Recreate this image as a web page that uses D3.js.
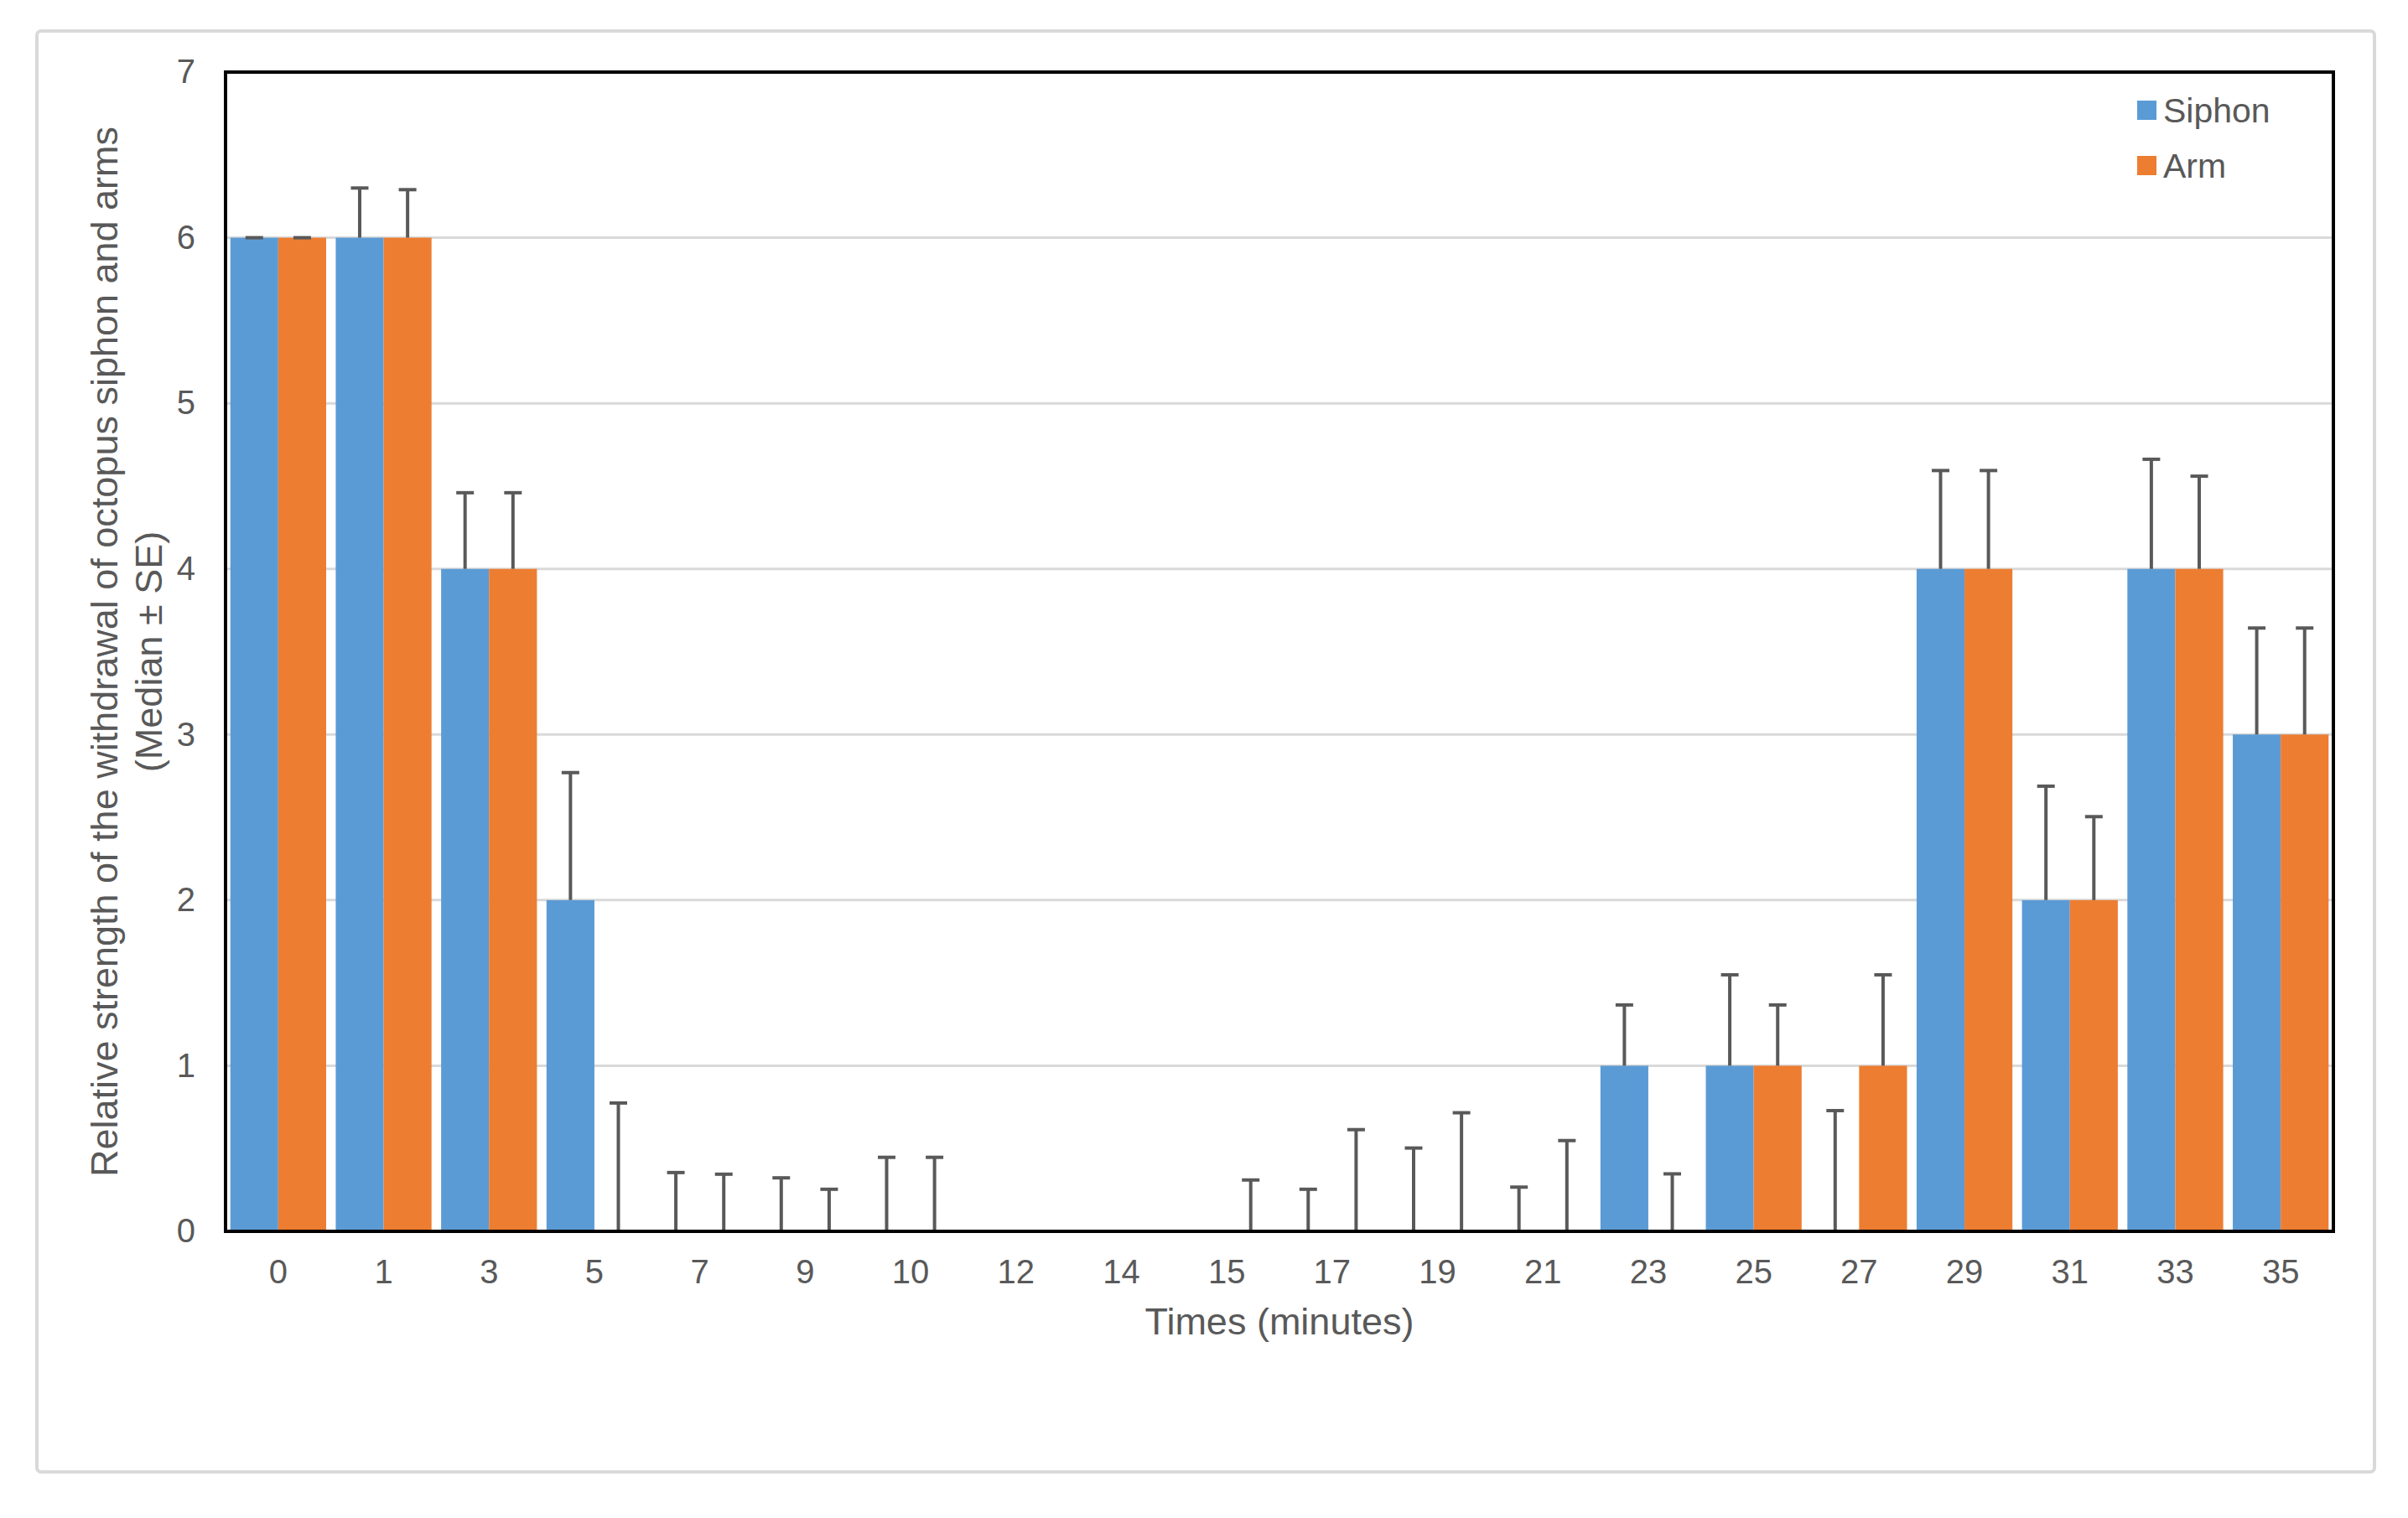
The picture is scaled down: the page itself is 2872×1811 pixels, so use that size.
<!DOCTYPE html>
<html>
<head>
<meta charset="utf-8">
<script src="https://cdn.jsdelivr.net/npm/d3@7"></script>
<style>
  html, body { margin: 0; padding: 0; background: #ffffff; }
  svg { display: block; }
  text { font-family: "Liberation Sans", Arial, Helvetica, sans-serif; fill: #595959; }
</style>
</head>
<body>
<script>
// ---- Data ----
const categories = ["0","1","3","5","7","9","10","12","14","15","17","19","21","23","25","27","29","31","33","35"];
const seriesNames = ["Siphon", "Arm"];
const siphon   = [6, 6, 4, 2, 0, 0, 0, 0, 0, 0, 0, 0, 0, 1, 1, 0, 4, 2, 4, 3];
const arm      = [6, 6, 4, 0, 0, 0, 0, 0, 0, 0, 0, 0, 0, 0, 1, 1, 4, 2, 4, 3];
const siphonSE = [0, 0.30, 0.46, 0.77, 0.355, 0.323, 0.447, 0, 0, 0, 0.254, 0.503, 0.267, 0.367, 0.549, 0.729, 0.594, 0.688, 0.662, 0.643];
const armSE    = [0, 0.29, 0.46, 0.775, 0.345, 0.254, 0.447, 0, 0, 0.310, 0.614, 0.716, 0.548, 0.347, 0.367, 0.549, 0.594, 0.504, 0.56, 0.643];
const yTicks   = [0, 1, 2, 3, 4, 5, 6, 7];
const xTitle = "Times (minutes)";
const yTitleLines = ["Relative strength of the withdrawal of octopus siphon and arms", "(Median ± SE)"];

// ---- Layout ----
const W = 2872, H = 1811;
const plot = { left: 269, top: 86, right: 2783, bottom: 1469 };
const colors = { Siphon: "#5B9BD5", Arm: "#ED7D31" };
const textColor = "#595959";

const svg = d3.select("body").append("svg").attr("width", W).attr("height", H);

// outer chart border
svg.append("rect")
  .attr("x", 44).attr("y", 37).attr("width", 2788).attr("height", 1719)
  .attr("rx", 5).attr("fill", "#fff").attr("stroke", "#d9d9d9").attr("stroke-width", 4);

const x0 = d3.scaleBand().domain(categories)
  .range([plot.left, plot.right]).paddingInner(0.2 / 2.2).paddingOuter(0.1 / 2.2);
const x1 = d3.scaleBand().domain(seriesNames).range([0, x0.bandwidth()]).padding(0);
const y = d3.scaleLinear().domain([0, 7]).range([plot.bottom, plot.top]);

// gridlines
svg.append("g").selectAll("line").data(yTicks.filter(t => t > 0 && t < 7)).join("line")
  .attr("x1", plot.left).attr("x2", plot.right)
  .attr("y1", d => y(d)).attr("y2", d => y(d))
  .attr("stroke", "#d9d9d9").attr("stroke-width", 3);

const rows = categories.map((c, i) => ({
  cat: c,
  vals: [
    { s: "Siphon", v: siphon[i], se: siphonSE[i] },
    { s: "Arm", v: arm[i], se: armSE[i] }
  ]
}));

// bars
const groups = svg.append("g").selectAll("g").data(rows).join("g")
  .attr("transform", d => `translate(${x0(d.cat)},0)`);
groups.selectAll("rect").data(d => d.vals).join("rect")
  .attr("x", d => x1(d.s)).attr("width", x1.bandwidth())
  .attr("y", d => y(d.v)).attr("height", d => y(0) - y(d.v))
  .attr("fill", d => colors[d.s]);

// error bars (plus direction)
const capW = 21;
const eb = groups.selectAll("g.eb").data(d => d.vals).join("g").attr("class", "eb");
eb.append("line")
  .attr("x1", d => x1(d.s) + x1.bandwidth() / 2).attr("x2", d => x1(d.s) + x1.bandwidth() / 2)
  .attr("y1", d => y(d.v)).attr("y2", d => y(d.v + d.se))
  .attr("stroke", textColor).attr("stroke-width", 4);
eb.append("line")
  .attr("x1", d => x1(d.s) + x1.bandwidth() / 2 - capW / 2).attr("x2", d => x1(d.s) + x1.bandwidth() / 2 + capW / 2)
  .attr("y1", d => y(d.v + d.se)).attr("y2", d => y(d.v + d.se))
  .attr("stroke", textColor).attr("stroke-width", 4);

// plot border
svg.append("rect")
  .attr("x", plot.left).attr("y", plot.top)
  .attr("width", plot.right - plot.left).attr("height", plot.bottom - plot.top)
  .attr("fill", "none").attr("stroke", "#000").attr("stroke-width", 4);

// y axis
const yAxis = svg.append("g").attr("transform", `translate(${plot.left},0)`)
  .call(d3.axisLeft(y).tickValues(yTicks).tickFormat(d3.format("d")).tickSize(0).tickPadding(36));
yAxis.select(".domain").remove();
yAxis.selectAll("text").style("font-size", "40px").attr("fill", textColor)
  .style("font-family", '"Liberation Sans", Arial, sans-serif');

// x axis
const xAxis = svg.append("g").attr("transform", `translate(0,${plot.bottom})`)
  .call(d3.axisBottom(x0).tickSize(0).tickPadding(34));
xAxis.select(".domain").remove();
xAxis.selectAll("text").style("font-size", "40px").attr("fill", textColor)
  .style("font-family", '"Liberation Sans", Arial, sans-serif');

// axis titles
svg.append("text").attr("x", (plot.left + plot.right) / 2).attr("y", 1592)
  .attr("text-anchor", "middle").style("font-size", "45px").text(xTitle);

const yCenter = (plot.top + plot.bottom) / 2;
[124, 177].forEach((cx, i) => {
  svg.append("text")
    .attr("transform", `translate(${cx},${yCenter}) rotate(-90)`)
    .attr("text-anchor", "middle").attr("dy", "0.36em")
    .style("font-size", "45px").text(yTitleLines[i]);
});

// legend
const legend = svg.append("g").selectAll("g").data(seriesNames).join("g")
  .attr("transform", (d, i) => `translate(2549,${131 + i * 66})`);
legend.append("rect").attr("x", 0).attr("y", -11).attr("width", 23).attr("height", 23)
  .attr("fill", d => colors[d]);
legend.append("text").attr("x", 31).attr("y", 0).attr("dy", "0.36em")
  .style("font-size", "41px").text(d => d);
</script>
</body>
</html>
